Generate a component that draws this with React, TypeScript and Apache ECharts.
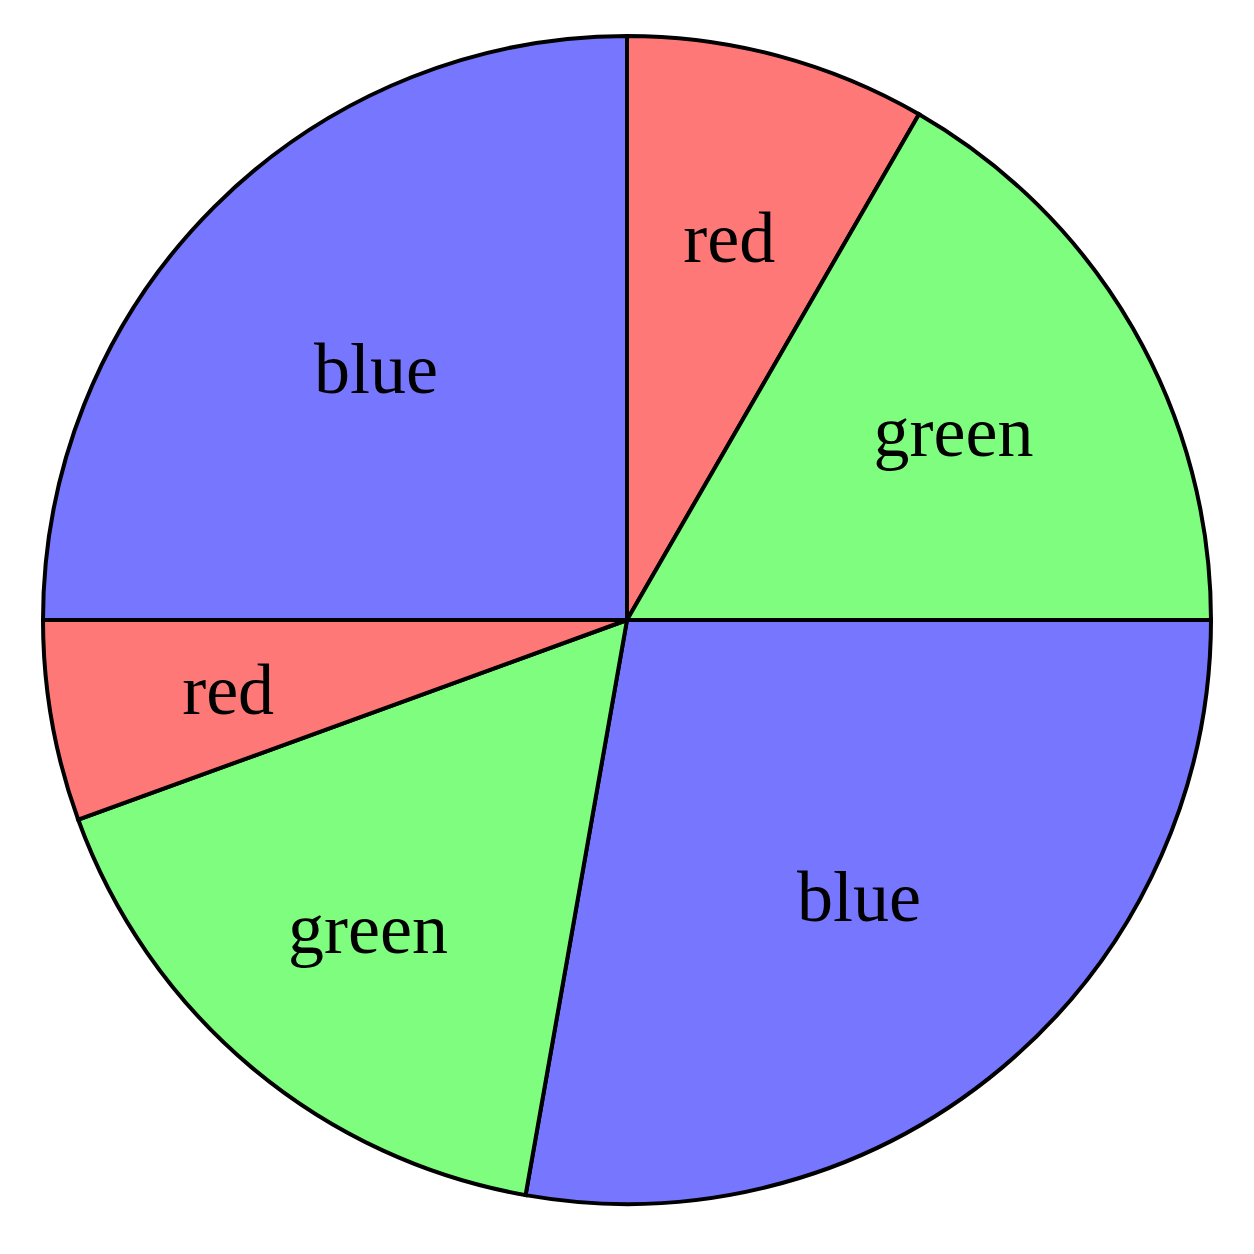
import React, { useEffect, useRef } from 'react';
import * as echarts from 'echarts';

const sliceNames = ['red', 'green', 'blue', 'green', 'red', 'blue'];
const sliceValues = [30, 60, 100, 60, 20, 90];

const COLORS: Record<string, string> = {
  red: '#ff7878',
  green: '#7ffd7f',
  blue: '#7676ff'
};

// distance of each label's centre from the pie centre (px), as pgf-pie puts them
const labelDistances = [392, 374, 358, 400, 402, 352];

const RADIUS = 584;
const CENTER = [619, 612];

const App: React.FC = () => {
  const chartRef = useRef<HTMLDivElement>(null);

  useEffect(() => {
    if (!chartRef.current) return;
    const chart = echarts.init(chartRef.current, undefined, { renderer: 'svg' });

    const data = sliceNames.map((name, i) => ({ name, value: sliceValues[i] }));

    // one transparent pie per label, sized so that 'inside' lands at the wanted distance
    const labelSeries = labelDistances.map((dist, idx) => ({
      type: 'pie',
      center: CENTER,
      radius: [0, dist * 2],
      startAngle: 90,
      clockwise: true,
      silent: true,
      avoidLabelOverlap: false,
      itemStyle: { color: 'rgba(0,0,0,0)', borderWidth: 0 },
      labelLine: { show: false },
      label: {
        show: false,
        position: 'inside',
        formatter: '{b}',
        color: '#000',
        fontFamily: 'Liberation Serif',
        fontSize: 72
      },
      data: data.map((d, i) => ({ ...d, label: { show: i === idx } }))
    }));

    chart.setOption({
      animation: false,
      series: [
        {
          type: 'pie',
          center: CENTER,
          radius: [0, RADIUS],
          startAngle: 90,
          clockwise: true,
          silent: true,
          label: { show: false },
          labelLine: { show: false },
          itemStyle: {
            borderColor: '#000',
            borderWidth: 4,
            borderJoin: 'miter'
          },
          data: data.map(d => ({
            ...d,
            itemStyle: { color: COLORS[d.name] }
          }))
        },
        ...labelSeries
      ]
    });

    return () => {
      chart.dispose();
    };
  }, []);

  return <div ref={chartRef} style={{ width: '1238px', height: '1238px' }} />;
};

export default App;
